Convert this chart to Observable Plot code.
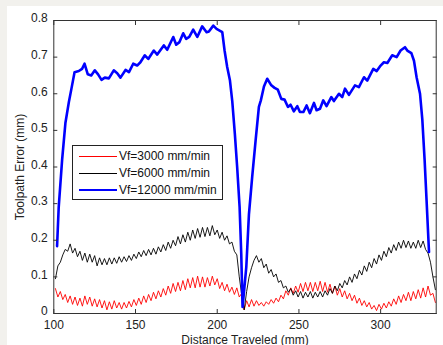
<!DOCTYPE html>
<html><head><meta charset="utf-8">
<script src="https://cdn.jsdelivr.net/npm/d3@7"></script>
<script src="https://cdn.jsdelivr.net/npm/@observablehq/plot@0.6"></script>
<style>
html,body{margin:0;padding:0;background:#f2f1ed;width:443px;height:345px;overflow:hidden;}
#wrap{position:absolute;left:7px;top:6px;width:436px;height:339px;background:#fff;}
#legend{position:absolute;left:65px;top:139px;width:149px;height:53px;border:1px solid #222;background:#fff;font:12px "Liberation Sans",Arial,sans-serif;color:#111;}
.row{position:absolute;left:0;height:17px;width:149px;}
.sw{position:absolute;left:6px;width:38px;top:8px;}
.lb{position:absolute;left:46px;top:1px;white-space:nowrap;line-height:14px;}
</style></head>
<body><div id="wrap"></div>
<script>
// sampling grid for the two lower series (mm)
const distStart = 101, distStep = 1.5;

const vf3000 = [0.068,0.045,0.06,0.038,0.052,0.03,0.048,0.025,0.045,0.022,
0.042,0.02,0.048,0.025,0.045,0.02,0.04,0.018,0.038,0.015,
0.035,0.01,0.032,0.012,0.035,0.015,0.03,0.012,0.03,0.015,
0.033,0.018,0.038,0.022,0.042,0.025,0.048,0.03,0.052,0.035,
0.058,0.04,0.062,0.045,0.068,0.05,0.075,0.055,0.082,0.06,
0.085,0.062,0.09,0.065,0.095,0.07,0.098,0.07,0.102,0.072,
0.1,0.072,0.098,0.075,0.102,0.078,0.095,0.068,0.085,0.062,
0.08,0.058,0.072,0.052,0.07,0.045,0.055,0.01,0.035,0.018,
0.038,0.02,0.035,0.022,0.03,0.02,0.032,0.025,0.038,0.028,
0.042,0.032,0.05,0.04,0.062,0.05,0.07,0.055,0.075,0.058,
0.082,0.06,0.085,0.062,0.085,0.06,0.085,0.062,0.088,0.06,
0.085,0.058,0.08,0.055,0.075,0.05,0.068,0.045,0.062,0.04,
0.055,0.035,0.05,0.028,0.042,0.022,0.035,0.018,0.03,0.012,
0.022,0.008,0.025,0.012,0.028,0.015,0.032,0.02,0.04,0.025,
0.048,0.03,0.052,0.035,0.058,0.035,0.06,0.04,0.065,0.042,
0.07,0.045,0.075,0.05,0.055,0.03];

const vf6000 = [0.095,0.13,0.14,0.16,0.175,0.17,0.19,0.165,0.178,0.155,
0.17,0.145,0.165,0.14,0.162,0.14,0.158,0.13,0.152,0.133,
0.15,0.133,0.152,0.135,0.152,0.137,0.155,0.14,0.155,0.142,
0.158,0.145,0.162,0.15,0.168,0.155,0.172,0.158,0.175,0.16,
0.178,0.162,0.182,0.168,0.188,0.172,0.195,0.178,0.2,0.185,
0.21,0.19,0.215,0.195,0.222,0.2,0.228,0.205,0.232,0.208,
0.235,0.21,0.235,0.212,0.24,0.215,0.228,0.205,0.222,0.2,
0.212,0.19,0.195,0.17,0.16,0.1,0.05,0.01,0.06,0.1,
0.125,0.145,0.158,0.14,0.15,0.125,0.135,0.11,0.12,0.1,
0.108,0.085,0.09,0.07,0.075,0.058,0.068,0.05,0.062,0.045,
0.06,0.042,0.058,0.045,0.06,0.042,0.058,0.045,0.06,0.045,
0.062,0.05,0.068,0.055,0.075,0.062,0.082,0.07,0.09,0.078,
0.1,0.085,0.108,0.095,0.118,0.105,0.13,0.115,0.14,0.125,
0.15,0.135,0.16,0.145,0.17,0.155,0.18,0.165,0.188,0.172,
0.195,0.178,0.2,0.18,0.198,0.178,0.195,0.178,0.2,0.18,
0.198,0.175,0.165,0.14,0.1,0.065];

const vf12000X = [102,103,105.1,107.1,109.2,110.8,112.7,115.3,117.3,118.8,
120.8,122.9,125.1,127.1,129.2,131.2,133.7,136.7,138.8,140.8,
143.9,146,148.6,151,153,155.7,157.8,161.2,163.3,167.3,
169.4,173.1,174.9,176.9,179.2,181,182.9,185.3,187.8,190.8,
193.5,194.9,197.6,199.6,202,203.1,204.5,206.1,207.8,209.2,
210.8,212.2,213.7,214.7,215.5,216.3,217.8,219.4,221.4,223.5,
225.5,226.7,228.6,230.6,233.1,235.1,237.1,239.2,241.2,243.3,
244.9,246.9,249,250.6,252.7,254.7,256.7,259.2,260.8,262.9,
264.9,266.9,269.8,271.4,274.5,276.5,278.2,280.6,284.3,286.7,
289.8,291.8,295.5,297.6,300,302,304.1,307.1,309.8,312.2,
314.9,316.3,318.8,320.4,322,324.1,325.5,326.9,328.2,329.6];
const vf12000Y = [0.184,0.29,0.42,0.52,0.577,0.614,0.659,0.662,0.668,0.682,
0.653,0.65,0.664,0.653,0.638,0.644,0.642,0.664,0.656,0.644,
0.665,0.659,0.682,0.677,0.686,0.705,0.695,0.718,0.707,0.732,
0.72,0.755,0.734,0.741,0.765,0.75,0.755,0.775,0.755,0.784,
0.768,0.77,0.786,0.777,0.771,0.768,0.718,0.673,0.636,0.58,
0.49,0.40,0.29,0.164,0.018,0.055,0.127,0.27,0.373,0.473,
0.564,0.582,0.62,0.641,0.623,0.616,0.611,0.586,0.584,0.564,
0.57,0.552,0.566,0.55,0.55,0.568,0.547,0.575,0.555,0.559,
0.582,0.566,0.591,0.58,0.6,0.591,0.614,0.597,0.623,0.618,
0.645,0.636,0.668,0.662,0.677,0.686,0.684,0.705,0.7,0.718,
0.727,0.718,0.711,0.69,0.645,0.6,0.53,0.42,0.3,0.168];

const seriesNames = ["Vf=3000 mm/min","Vf=6000 mm/min","Vf=12000 mm/min"];
const seriesColors = ["#ff0000","#000000","#0000ff"];
const seriesWidths = [0.9,0.9,2.6];
const xTicks = [100,150,200,250,300];
const yTicks = [0,0.1,0.2,0.3,0.4,0.5,0.6,0.7,0.8];

const dist = vf3000.map((_, i) => distStart + i * distStep);

const font = '"Liberation Sans", Arial, sans-serif';
const chart = Plot.plot({
  width: 436, height: 339,
  marginLeft: 46.3, marginRight: 7.3, marginTop: 14, marginBottom: 32,
  style: {fontFamily: font, fontSize: "12px", color: "#222", background: "white", overflow: "visible"},
  x: {domain: [100, 334]},
  y: {domain: [0, 0.8]},
  marks: [
    Plot.line(dist, {x: dist, y: vf3000, stroke: seriesColors[0], strokeWidth: seriesWidths[0]}),
    Plot.line(dist, {x: dist, y: vf6000, stroke: seriesColors[1], strokeWidth: seriesWidths[1]}),
    Plot.line(vf12000X, {x: vf12000X, y: vf12000Y, stroke: seriesColors[2], strokeWidth: seriesWidths[2]}),
    Plot.frame({stroke: "#333"}),
    Plot.axisX(xTicks, {anchor: "bottom", tickSize: -4, tickFormat: () => "", label: null, stroke: "#333"}),
    Plot.axisX(xTicks, {anchor: "top", tickSize: -4, tickFormat: () => "", label: null, stroke: "#333"}),
    Plot.axisY(yTicks, {anchor: "left", tickSize: -4, tickFormat: () => "", label: null, stroke: "#333"}),
    Plot.axisY(yTicks, {anchor: "right", tickSize: -4, tickFormat: () => "", label: null, stroke: "#333"}),
    Plot.axisX(xTicks, {anchor: "bottom", tickSize: 0, tickPadding: 7, tickFormat: d => String(d), label: "Distance Traveled (mm)", labelAnchor: "center", labelArrow: "none", labelOffset: 30, fill: "#222"}),
    Plot.axisY(yTicks, {anchor: "left", tickSize: 0, tickPadding: 6, dy: -2, tickFormat: d => String(+d.toFixed(1)), label: "Toolpath Error (mm)", labelAnchor: "center", labelArrow: "none", labelOffset: 38, fill: "#222"})
  ]
});
const wrap = document.getElementById("wrap");
wrap.appendChild(chart);

// legend box
const leg = document.createElement("div");
leg.id = "legend";
seriesNames.forEach((name, i) => {
  const row = document.createElement("div");
  row.className = "row";
  row.style.top = (2 + i * 17) + "px";
  const sw = document.createElement("div");
  sw.className = "sw";
  sw.style.borderTop = seriesWidths[i] + "px solid " + seriesColors[i];
  sw.style.top = (8 - seriesWidths[i] / 2) + "px";
  const lb = document.createElement("div");
  lb.className = "lb";
  lb.textContent = name;
  row.appendChild(sw); row.appendChild(lb);
  leg.appendChild(row);
});
wrap.appendChild(leg);
</script>
</body></html>
